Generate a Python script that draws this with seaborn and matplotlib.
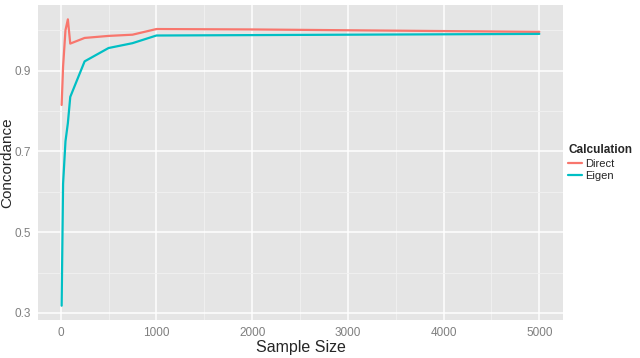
import pandas as pd
import numpy as np
import seaborn as sns
import matplotlib.pyplot as plt
from matplotlib.ticker import MultipleLocator

# Data
sample_size = [10, 25, 50, 75, 100, 250, 500, 750, 1000, 2000, 3000, 4000, 5000]
direct = [0.815, 0.91, 1.0, 1.027, 0.967, 0.981, 0.986, 0.989, 1.003, 1.002, 1.0, 0.998, 0.996]
eigen = [0.318, 0.62, 0.725, 0.77, 0.835, 0.923, 0.956, 0.968, 0.987, 0.988, 0.989, 0.990, 0.991]
calc_labels = ['Direct', 'Eigen']
x_ticks = [0, 1000, 2000, 3000, 4000, 5000]
y_ticks = [0.3, 0.5, 0.7, 0.9]

df = pd.DataFrame({
    'Sample Size': sample_size * 2,
    'Concordance': direct + eigen,
    'Calculation': [calc_labels[0]] * len(direct) + [calc_labels[1]] * len(eigen),
})

sns.set_style('darkgrid', {'axes.facecolor': '#E5E5E5', 'grid.color': 'white'})
plt.rcParams['font.family'] = ['Liberation Sans', 'DejaVu Sans']

fig = plt.figure(figsize=(6.4, 3.58), dpi=100)
ax = fig.add_axes([0.059, 0.106, 0.821, 0.880])

ax = sns.lineplot(data=df, x='Sample Size', y='Concordance', hue='Calculation',
                  palette=['#F8766D', '#00BFC4'], linewidth=1.6, ax=ax)

# ggplot-like axes
ax.set_xlim(-239.5, 5249.5)
ax.set_ylim(0.2825, 1.0625)
ax.set_xticks(x_ticks)
ax.set_yticks(y_ticks)
ax.set_yticklabels([f'{v:.1f}' for v in y_ticks])
ax.xaxis.set_minor_locator(MultipleLocator(500))
ax.set_yticks([0.4, 0.6, 0.8, 1.0], minor=True)
ax.grid(which='major', color='white', linewidth=1.1)
ax.grid(which='minor', color='#F2F2F2', linewidth=0.6)
ax.set_axisbelow(True)
for s in ax.spines.values():
    s.set_visible(False)
ax.tick_params(axis='both', which='major', length=3, width=0.8, color='#7F7F7F',
               labelcolor='#7F7F7F', labelsize=8.5, pad=2)
ax.tick_params(axis='both', which='minor', length=0)
ax.set_xlabel('Sample Size', fontsize=11.5, labelpad=1)
ax.set_ylabel('Concordance', fontsize=11)
ax.yaxis.set_label_coords(-0.045, 0.5)

leg = ax.legend(title='Calculation', loc='center left', bbox_to_anchor=(0.995, 0.5),
                frameon=False, fontsize=8, handlelength=1.2, handletextpad=0.3,
                borderaxespad=0.3, labelspacing=0.2)
leg.get_title().set_fontweight('bold')
leg.get_title().set_fontsize(8.5)
leg._legend_box.align = 'left'

plt.savefig('out.png', dpi=100)
